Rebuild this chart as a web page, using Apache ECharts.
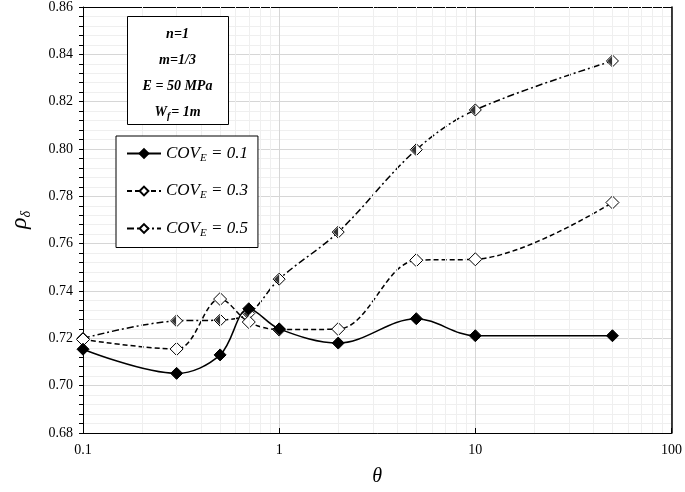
<!DOCTYPE html>
<html>
<head>
<meta charset="utf-8">
<script src="https://cdn.jsdelivr.net/npm/echarts@6/dist/echarts.min.js"></script>
<style>
html,body{margin:0;padding:0;background:#fff;}
#c{width:685px;height:492px;}
</style>
</head>
<body>
<div id="c"></div>
<script>
var theta = [0.1, 0.3, 0.5, 0.7, 1, 2, 5, 10, 50];
var cov01 = [0.7154, 0.7052, 0.7130, 0.7325, 0.7240, 0.7180, 0.7283, 0.7211, 0.7211];
var cov03 = [0.7195, 0.7155, 0.7366, 0.7269, 0.7237, 0.7239, 0.7530, 0.7534, 0.7774];
var cov05 = [0.7200, 0.7274, 0.7277, 0.7305, 0.7450, 0.7649, 0.7997, 0.8165, 0.8372];
var seriesNames = ['COV_E = 0.1', 'COV_E = 0.3', 'COV_E = 0.5'];
var legendLabels = ['{i|COV}{s|E}{i| = 0.1}', '{i|COV}{s|E}{i| = 0.3}', '{i|COV}{s|E}{i| = 0.5}'];
var yTicks = {min: 0.68, max: 0.86, interval: 0.02};
var xRange = {min: 0.1, max: 100};
var minorX = [0.2,0.3,0.4,0.5,0.6,0.7,0.8,0.9,2,3,4,5,6,7,8,9,20,30,40,50,60,70,80,90];
var noteLines = ['n=1', 'm=1/3', 'E = 50 MPa'];

function pairs(ys){ return theta.map(function(x,i){ return [x, ys[i]]; }); }

var serif = 'Liberation Serif';
var chart = echarts.init(document.getElementById('c'), null, {renderer:'canvas'});

function noteText(y, txt){
  return {type: 'text', x: 50.5, y: y, z: 101, style: {text: txt, align: 'center', verticalAlign: 'middle',
    fontFamily: serif, fontStyle: 'italic', fontWeight: 'bold', fontSize: 14, fill: '#000'}};
}

var option = {
  backgroundColor: '#fff',
  animation: false,
  grid: {left: 83, right: 11, top: 7, bottom: 55, show: false},
  xAxis: [{
    type: 'log', min: xRange.min, max: xRange.max, logBase: 10,
    axisLine: {show: true, lineStyle: {color: '#000', width: 1}},
    axisTick: {show: true, inside: true, length: 5, lineStyle: {color: '#000'}},
    axisLabel: {color: '#000', fontFamily: serif, fontSize: 14, margin: 10,
      formatter: function(v){ return String(+v.toPrecision(3)); }},
    splitLine: {show: true, lineStyle: {color: '#d6d6d6', width: 1}},
    name: 'θ', nameLocation: 'middle', nameGap: 34,
    nameTextStyle: {fontFamily: serif, fontStyle: 'italic', fontSize: 20, color: '#000'}
  }, {
    type: 'log', min: xRange.min, max: xRange.max, logBase: 10, position: 'top',
    axisLine: {show: true, lineStyle: {color: '#000', width: 1}},
    axisTick: {show: false}, axisLabel: {show: false}, splitLine: {show: false}
  }],
  yAxis: [{
    type: 'value', min: yTicks.min, max: yTicks.max, interval: yTicks.interval,
    axisLine: {show: true, lineStyle: {color: '#000', width: 1}},
    axisTick: {show: true, inside: false, length: 4, lineStyle: {color: '#000'}},
    minorTick: {show: true, splitNumber: 5, length: 4, lineStyle: {color: '#000'}},
    axisLabel: {color: '#000', fontFamily: serif, fontSize: 14, margin: 10,
      formatter: function(v){ return v.toFixed(2); }},
    splitLine: {show: true, lineStyle: {color: '#d6d6d6', width: 1}},
    minorSplitLine: {show: true, lineStyle: {color: '#efefef', width: 1}},
    name: '{i|ρ}{s|δ}', nameLocation: 'middle', nameGap: 50, nameRotate: 90,
    nameTextStyle: {color: '#000', rich: {
      i: {fontFamily: serif, fontStyle: 'italic', fontSize: 24, color: '#000'},
      s: {fontFamily: serif, fontStyle: 'italic', fontSize: 14, color: '#000', verticalAlign: 'bottom', padding: [12,0,0,0]}
    }}
  }, {
    type: 'value', min: yTicks.min, max: yTicks.max, interval: yTicks.interval, position: 'right',
    axisLine: {show: true, lineStyle: {color: '#000', width: 1.5}},
    axisTick: {show: false}, axisLabel: {show: false}, splitLine: {show: false}
  }],
  legend: {
    show: true, orient: 'vertical', left: 116, top: 136, z: 50,
    data: seriesNames,
    backgroundColor: '#fff', borderColor: '#000', borderWidth: 1,
    padding: [9, 10, 9, 10], itemGap: 19, itemWidth: 34, itemHeight: 11,
    formatter: function(name){ return legendLabels[seriesNames.indexOf(name)]; },
    textStyle: {color: '#000', rich: {
      i: {fontFamily: serif, fontStyle: 'italic', fontSize: 17, color: '#000'},
      s: {fontFamily: serif, fontStyle: 'italic', fontSize: 11, color: '#000', verticalAlign: 'bottom', padding: [9,0,0,0]}
    }},
    selectedMode: false
  },
  series: [
    {
      name: 'minor', type: 'line', data: [], z: 1, silent: true,
      markLine: {silent: true, symbol: ['none','none'], label: {show: false},
        lineStyle: {color: '#efefef', type: 'solid', width: 1},
        data: minorX.map(function(v){ return {xAxis: v}; })}
    },
    {
      name: seriesNames[0], type: 'line', data: pairs(cov01), smooth: 0.35, z: 5,
      symbol: 'diamond', symbolSize: 12,
      lineStyle: {color: '#000', width: 1.5, type: 'solid'},
      itemStyle: {color: '#000', borderColor: '#000', borderWidth: 1}
    },
    {
      name: seriesNames[1], type: 'line', data: pairs(cov03), smooth: 0.35, z: 4,
      symbol: 'diamond', symbolSize: 13,
      lineStyle: {color: '#000', width: 1.5, type: [5, 3]},
      itemStyle: {color: '#fff', borderColor: '#000', borderWidth: 1}
    },
    {
      name: seriesNames[2], type: 'line', data: pairs(cov05), smooth: 0.35, z: 3,
      symbol: 'diamond', symbolSize: 12,
      lineStyle: {color: '#000', width: 1.5, type: [7, 3, 2, 3]},
      itemStyle: {color: '#fff', borderColor: '#000', borderWidth: 1}
    },
    {
      name: 'half', type: 'scatter', data: pairs(cov05), z: 3, silent: true,
      symbol: 'path://M10,0 L10,20 L0,10 Z', symbolSize: [5, 10], symbolOffset: [-2.5, 0],
      itemStyle: {color: '#000'}
    }
  ],
  graphic: [
    {
      type: 'group', left: 127, top: 16, z: 100,
      children: [
        {type: 'rect', z: 100, shape: {x: 0.5, y: 0.5, width: 101, height: 108},
          style: {fill: '#fff', stroke: '#000', lineWidth: 1}},
        noteText(18, noteLines[0]),
        noteText(44, noteLines[1]),
        noteText(70, noteLines[2]),
        {type: 'text', x: 50.5, y: 96, z: 101, style: {text: '{a|W}{b|f}{a|= 1m}', align: 'center', verticalAlign: 'middle',
          rich: {
            a: {fontFamily: serif, fontStyle: 'italic', fontWeight: 'bold', fontSize: 14, fill: '#000'},
            b: {fontFamily: serif, fontStyle: 'italic', fontWeight: 'bold', fontSize: 10, fill: '#000', verticalAlign: 'bottom', padding: [8,1,0,0]}
          }}}
      ]
    }
  ]
};
chart.setOption(option);
</script>
</body>
</html>
